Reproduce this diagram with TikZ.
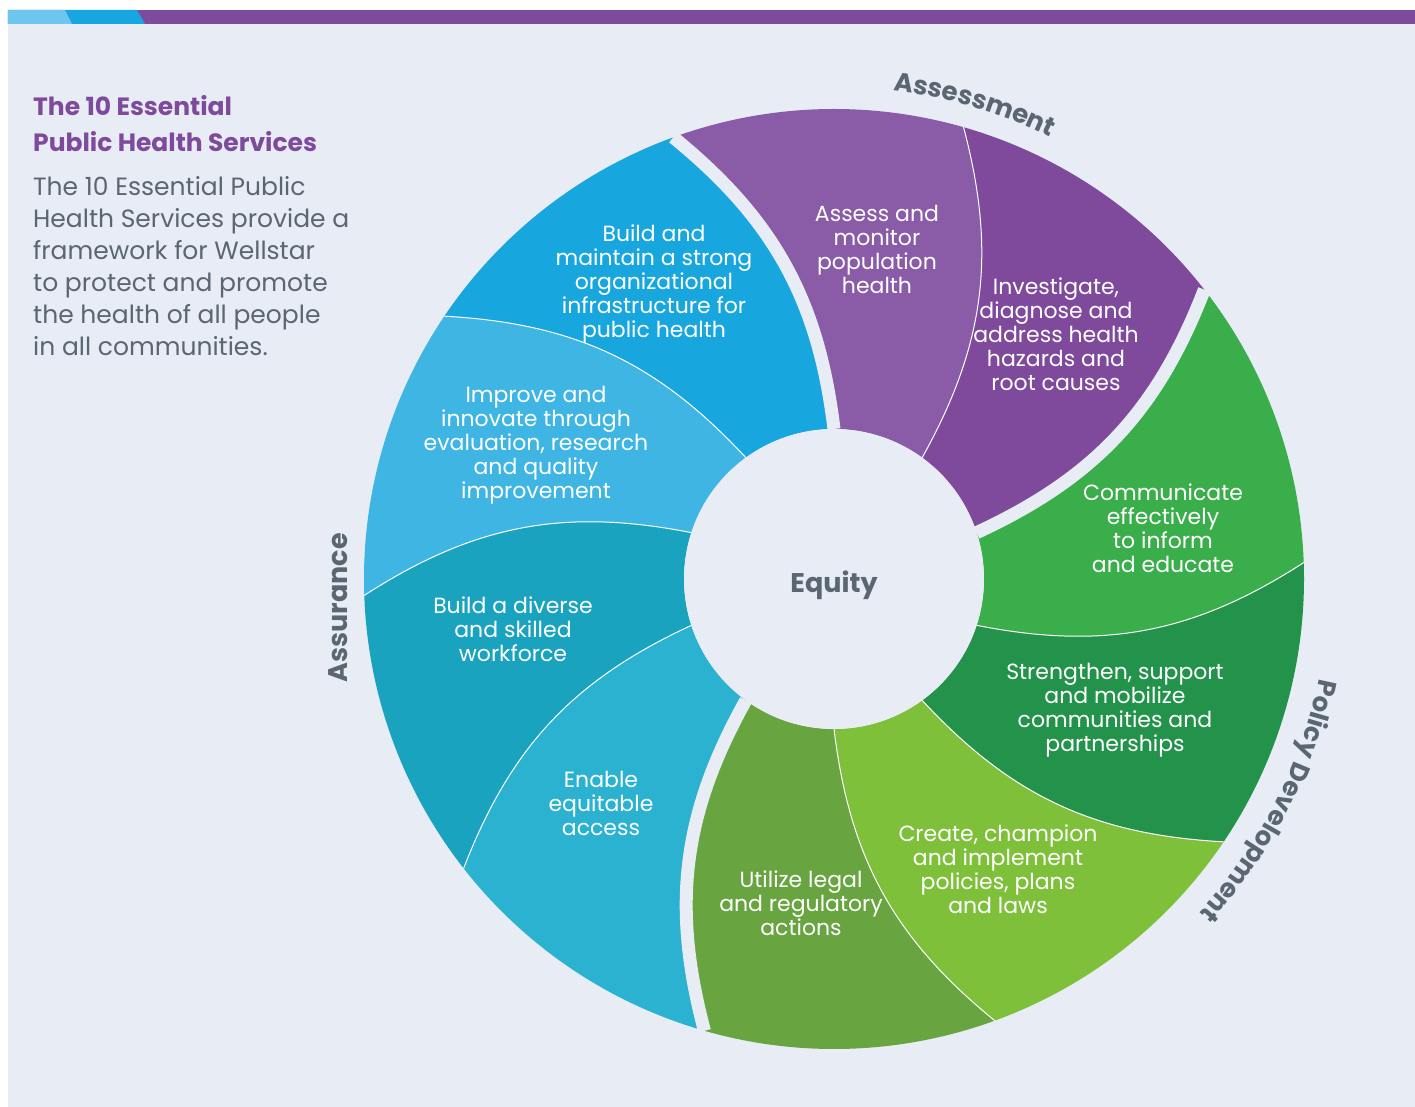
\documentclass[tikz,border=0pt]{standalone}
\usepackage{fontspec}
\setmainfont{Poppins}
\usetikzlibrary{decorations.text}
\definecolor{bg}{HTML}{E8ECF4}
\definecolor{labelgrey}{HTML}{5A6672}
\definecolor{titlepurple}{HTML}{7E4A9C}
\definecolor{barlight}{HTML}{6EC6EE}
\definecolor{barblue}{HTML}{17A6DF}
\definecolor{barpurple}{HTML}{7E4A9C}
\definecolor{assesscol}{HTML}{8A5BA6}
\definecolor{investcol}{HTML}{7F4A9B}
\definecolor{commcol}{HTML}{3AAE4A}
\definecolor{strengthcol}{HTML}{23924B}
\definecolor{createcol}{HTML}{7FC03B}
\definecolor{utilizecol}{HTML}{68A43F}
\definecolor{enablecol}{HTML}{2AB2D0}
\definecolor{diversecol}{HTML}{1AA3BE}
\definecolor{improvecol}{HTML}{3FB5E4}
\definecolor{maintaincol}{HTML}{18A6DF}
\tikzset{seglabel/.style={text=white, align=center, inner sep=0pt, font=\fontsize{22}{24}\selectfont}}
\tikzset{thinline/.style={draw=white, line width=1pt}}
\tikzset{gapline/.style={draw=bg, line width=13pt}}
\tikzset{grouplabel/.style={text=labelgrey, font=\bfseries\fontsize{27}{27}\selectfont}}
% one coloured wedge of the wheel, #2 = inner start angle
\newcommand{\petal}[2]{\fill[#1] ({#2}:150pt) to[bend right=22] ({#2+20}:470pt)
  arc[start angle={#2+20}, end angle={#2-16}, radius=470pt]
  to[bend left=22] ({#2-36}:150pt)
  arc[start angle={#2-36}, end angle={#2}, radius=150pt] -- cycle;}

\begin{document}
\begin{tikzpicture}[x=1pt,y=1pt]
  \useasboundingbox (-834,579) rectangle (581,-528);
  \fill[bg] (-826,555) rectangle (581,-528);
  % top bar
  \fill[barpurple] (-826,569) rectangle (581,555);
  \fill[barblue] (-826,569) -- (-697,569) -- (-689,555) -- (-826,555) -- cycle;
  \fill[barlight] (-826,569) -- (-769,569) -- (-762,555) -- (-826,555) -- cycle;

  % text on the left
  \node[anchor=north west, inner sep=0pt, align=left, text=titlepurple,
    font=\bfseries\fontsize{25}{36}\selectfont] (title) at (-801,484)
    {The 10 Essential\\Public Health Services};
  \node[anchor=north west, inner sep=0pt, align=left, text=labelgrey,
    font=\fontsize{25}{32}\selectfont] (intro) at (-801,403)
    {The 10 Essential Public\\Health Services provide a\\framework for Wellstar\\to protect and promote\\the health of all people\\in all communities.};

  % wheel
  \petal{assesscol}{90}
  \petal{investcol}{54}
  \petal{commcol}{18}
  \petal{strengthcol}{-18}
  \petal{createcol}{-54}
  \petal{utilizecol}{-90}
  \petal{enablecol}{-126}
  \petal{diversecol}{-162}
  \petal{improvecol}{162}
  \petal{maintaincol}{126}
  \draw[thinline] (54:150pt) to[bend right=22] (74:470pt);
  \draw[thinline] (-18:150pt) to[bend right=22] (2:470pt);
  \draw[thinline] (-54:150pt) to[bend right=22] (-34:470pt);
  \draw[thinline] (-90:150pt) to[bend right=22] (-70:470pt);
  \draw[thinline] (-162:150pt) to[bend right=22] (-142:470pt);
  \draw[thinline] (162:150pt) to[bend right=22] (182:470pt);
  \draw[thinline] (126:150pt) to[bend right=22] (146:470pt);
  \draw[gapline] (90:150pt) to[bend right=22] (110:470pt);
  \draw[gapline] (18:150pt) to[bend right=22] (38:470pt);
  \draw[gapline] (-126:150pt) to[bend right=22] (-106:470pt);
  \fill[bg] (0,0) circle[radius=150pt];
  \node[text=labelgrey, font=\bfseries\fontsize{27}{27}\selectfont] (equity) at (0,-6) {Equity};

  % service labels
  \node[seglabel] (assess) at (43,330) {Assess and\\monitor\\population\\health};
  \node[seglabel] (investigate) at (222,245) {Investigate,\\diagnose and\\address health\\hazards and\\root causes};
  \node[seglabel] (communicate) at (329,51) {Communicate\\effectively\\to inform\\and educate};
  \node[seglabel] (strengthen) at (281,-131) {Strengthen, support\\and mobilize\\communities and\\partnerships};
  \node[seglabel] (create) at (164,-290) {Create, champion\\and implement\\policies, plans\\and laws};
  \node[seglabel] (utilize) at (-33,-324) {Utilize legal\\and regulatory\\actions};
  \node[seglabel] (enable) at (-233,-224) {Enable\\equitable\\access};
  \node[seglabel] (diverse) at (-321,-50) {Build a diverse\\and skilled\\workforce};
  \node[seglabel] (improve) at (-298,134) {Improve and\\innovate through\\evaluation, research\\and quality\\improvement};
  \node[seglabel] (maintain) at (-180,295) {Build and\\maintain a strong\\organizational\\infrastructure for\\public health};

  % group names round the wheel
  \path[decorate, decoration={text along path, text align=center, text color=labelgrey,
    text={|\bfseries\fontsize{26}{26}\selectfont|Assessment}}]
    (95:492pt) arc[start angle=95, end angle=52, radius=492pt];
  \path[decorate, decoration={text along path, text align=center, text color=labelgrey,
    text={|\bfseries\fontsize{26}{26}\selectfont|Policy Development}}]
    (3:495pt) arc[start angle=3, end angle=-57, radius=495pt];
  \node[grouplabel, rotate=90] (assurance) at (-496,-29) {Assurance};
\end{tikzpicture}
\end{document}
